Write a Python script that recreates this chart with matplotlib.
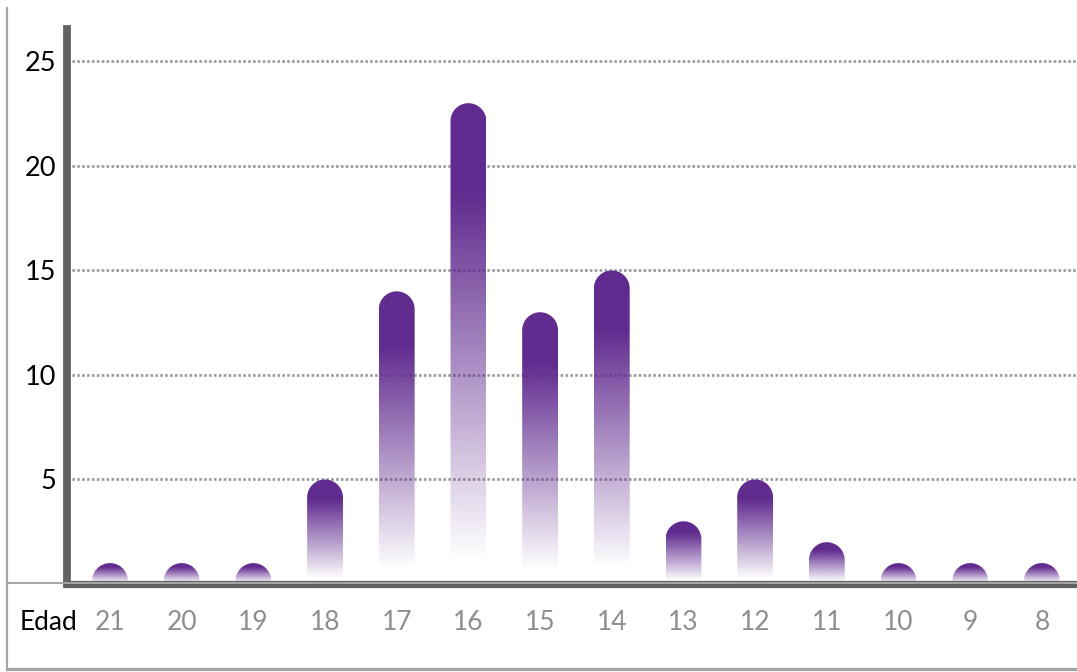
import numpy as np
import matplotlib
matplotlib.use("Agg")
import matplotlib.pyplot as plt
from matplotlib.path import Path
from matplotlib.patches import PathPatch
from matplotlib.lines import Line2D
from matplotlib.colors import to_rgb

# data
ages = ["21", "20", "19", "18", "17", "16", "15", "14", "13", "12", "11", "10", "9", "8"]
counts = [1, 1, 1, 5, 14, 23, 13, 15, 3, 5, 2, 1, 1, 1]
y_ticks = [5, 10, 15, 20, 25]

purple = "#612b8f"
axis_dark = "#616161"
axis_light = "#a6a6a6"

W, H = 1077, 672
fig = plt.figure(figsize=(W / 100, H / 100), dpi=100)
ax = fig.add_axes([67 / W, (H - 584) / H, (W - 67) / W, 555 / H])

x = np.arange(len(ages))
ax.set_xlim(-0.6, 13.49)
ax.set_ylim(0, 26.55)

# axes look
for s in ["top", "right"]:
    ax.spines[s].set_visible(False)
ax.spines["left"].set_color(axis_dark)
ax.spines["left"].set_linewidth(5.6)
ax.spines["bottom"].set_color(axis_dark)
ax.spines["bottom"].set_linewidth(5.2)
ax.spines["bottom"].set_zorder(5)
ax.spines["left"].set_zorder(5)

ax.set_yticks(y_ticks)
ax.set_yticklabels([str(t) for t in y_ticks], fontsize=19.5, color="black", family="Lato")
ax.set_xticks(x)
ax.set_xticklabels(ages, fontsize=19, color="#8e8e8e", family="Lato")
ax.tick_params(axis="y", length=0, pad=8)
ax.tick_params(axis="x", length=0, pad=19)

ax.yaxis.grid(True, color="#999999", linewidth=1.9, linestyle=(0, (1, 0.85)))
ax.set_axisbelow(True)

# rounded gradient bars
hw = 0.25
sx = ax.transData.transform((1, 0))[0] - ax.transData.transform((0, 0))[0]
sy = ax.transData.transform((0, 1))[1] - ax.transData.transform((0, 0))[1]
ry = hw * sx / sy

rgb = np.array(to_rgb(purple))
n = 256
t = np.linspace(0, 1, n)
alpha = np.clip((0.95 - t) / 0.76, 0, 1)
grad = np.zeros((n, 1, 4))
grad[:, 0, :3] = rgb
grad[:, 0, 3] = alpha

for xi, v in zip(x, counts):
    theta = np.linspace(0, np.pi, 40)
    cy = v - ry
    arc = np.column_stack([xi + hw * np.cos(theta), cy + ry * np.sin(theta)])
    verts = np.vstack([[xi + hw, 0], arc, [xi - hw, 0], [xi + hw, 0]])
    codes = [Path.MOVETO] + [Path.LINETO] * (len(verts) - 2) + [Path.CLOSEPOLY]
    patch = PathPatch(Path(verts, codes), facecolor="none", edgecolor="none")
    ax.add_patch(patch)
    im = ax.imshow(grad, extent=(xi - hw, xi + hw, 0, v), aspect="auto",
                   origin="upper", zorder=3, interpolation="bilinear")
    im.set_clip_path(patch)

ax.set_xlim(-0.6, 13.49)
ax.set_ylim(0, 26.55)

# frame lines around the chart
fig.add_artist(Line2D([7 / W, 7 / W], [(H - 668) / H, (H - 8) / H], color=axis_light, lw=1.6))
fig.add_artist(Line2D([7 / W, 1], [(H - 669) / H, (H - 669) / H], color=axis_light, lw=2.4))
fig.add_artist(Line2D([7 / W, 1], [(H - 583) / H, (H - 583) / H], color=axis_light, lw=1.4, zorder=6))

fig.text(20 / W, (H - 623) / H, "Edad", fontsize=19, color="black", family="Lato",
         va="center", ha="left")

fig.savefig("out.png", dpi=100)
